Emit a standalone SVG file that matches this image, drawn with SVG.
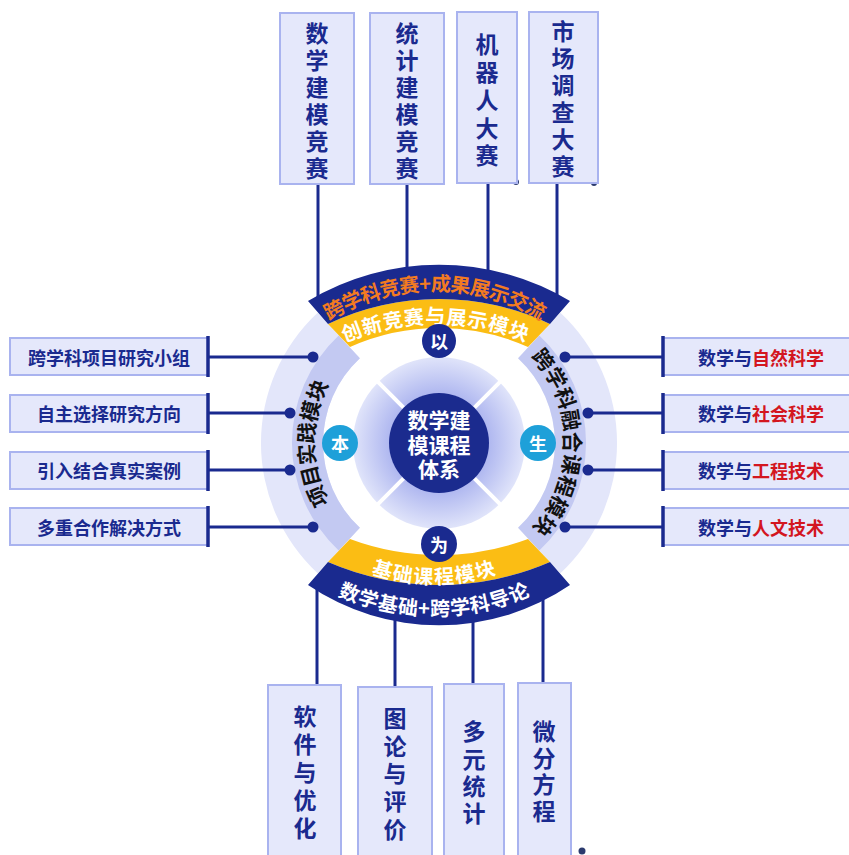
<svg xmlns="http://www.w3.org/2000/svg" width="849" height="855" viewBox="0 0 849 855">
<defs>
<style>
.box{fill:#e5e8fb;stroke:#a9b3ef;stroke-width:2}
.vt{font-family:"Noto Sans CJK SC","Noto Sans",sans-serif;font-weight:700;font-size:23px;fill:#1a2a8f;text-anchor:middle;dominant-baseline:central}
.ht{font-family:"Noto Sans CJK SC","Noto Sans",sans-serif;font-weight:700;font-size:18px;fill:#1a2a8f;text-anchor:middle;dominant-baseline:central}
.red{fill:#d3161f}
.bar{stroke:#1a2a8f;stroke-width:3.5;fill:none}
.ln{stroke:#1a2a8f;stroke-width:3;fill:none}
.dot{fill:#1a2a8f}
.arc{font-family:"Noto Sans CJK SC","Noto Sans",sans-serif;font-weight:700;font-size:20px;text-anchor:middle;dominant-baseline:central}
.side{font-size:21px}
.navy{fill:#1a2a8f}
.yel{fill:#fbbd14}
.badge{font-family:"Noto Sans CJK SC","Noto Sans",sans-serif;font-weight:700;font-size:18px;fill:#fff;text-anchor:middle;dominant-baseline:central}
</style>
<radialGradient id="ringGrad" gradientUnits="userSpaceOnUse" cx="439" cy="443" r="86">
<stop offset="0.58" stop-color="#b0b8f0"/>
<stop offset="1" stop-color="#e0e4fa"/>
</radialGradient>
<path id="pTopDark" d="M271.8,358.1 A213,213 0 0 1 598.2,358.1"/>
<path id="pTopYel" d="M280.4,371.6 A242,242 0 0 1 591.6,371.6"/>
<path id="pBotYel" d="M289.2,507.5 A189,189 0 0 0 578.8,507.5"/>
<path id="pBotDark" d="M272.1,539.9 A229,229 0 0 0 595.9,539.9"/>
<path id="pLeft" d="M344.2,537.8 A135,135 0 0 1 344.2,348.2"/>
<path id="pRight" d="M534.5,347.5 A135,135 0 0 1 534.5,538.5"/>
</defs>
<rect width="849" height="855" fill="#ffffff"/>

<g id="wheel">
<path fill="#e3e6fa" d="M317.6,312.8 A178,178 0 0 0 317.6,573.2 L359.9,527.8 A116,116 0 0 1 359.9,358.2 Z"/>
<path fill="#c3c9f2" d="M338.7,335.5 A147,147 0 0 0 338.7,550.5 L359.9,527.8 A116,116 0 0 1 359.9,358.2 Z"/>
<path fill="#e3e6fa" d="M560.4,312.8 A178,178 0 0 1 560.4,573.2 L518.1,527.8 A116,116 0 0 0 518.1,358.2 Z"/>
<path fill="#c3c9f2" d="M539.3,335.5 A147,147 0 0 1 539.3,550.5 L518.1,527.8 A116,116 0 0 0 518.1,358.2 Z"/>
<path class="yel" d="M328,324 A259,259 0 0 1 550,324 L528,347 A218,218 0 0 0 350,347 Z"/>
<path class="navy" d="M308,301 A255,255 0 0 1 570,301 L550,324 A259,259 0 0 0 328,324 Z"/>
<path class="yel" d="M328,562 A279.3,279.3 0 0 0 550,562 L528,539 A255.5,255.5 0 0 1 350,539 Z"/>
<path class="navy" d="M308,585 A232.8,232.8 0 0 0 570,585 L550,562 A279.3,279.3 0 0 1 328,562 Z"/>
<circle cx="439" cy="443" r="86" fill="url(#ringGrad)"/>
<g stroke="#ffffff" stroke-width="4">
<line x1="474.4" y1="407.6" x2="500.8" y2="381.2"/>
<line x1="403.6" y1="407.6" x2="377.2" y2="381.2"/>
<line x1="474.4" y1="478.4" x2="500.8" y2="504.8"/>
<line x1="403.6" y1="478.4" x2="377.2" y2="504.8"/>
</g>
<circle cx="439" cy="443" r="50" fill="#1b2b8e"/>
<text class="badge" style="font-size:21px"><tspan x="439" y="419">数学建</tspan><tspan x="439" y="443.5">模课程</tspan><tspan x="439" y="468">体系</tspan></text>
<text class="arc" fill="#f37b21"><textPath href="#pTopDark" startOffset="50%">跨学科竞赛+成果展示交流</textPath></text>
<text class="arc" fill="#ffffff"><textPath href="#pTopYel" startOffset="50%" letter-spacing="1.5">创新竞赛与展示模块</textPath></text>
<text class="arc" fill="#ffffff"><textPath href="#pBotYel" startOffset="50%" letter-spacing="0.5">基础课程模块</textPath></text>
<text class="arc" fill="#ffffff"><textPath href="#pBotDark" startOffset="50%">数学基础+跨学科导论</textPath></text>
<text class="arc side" fill="#111111"><textPath href="#pLeft" startOffset="50%" letter-spacing="1">项目实践模块</textPath></text>
<text class="arc side" fill="#111111"><textPath href="#pRight" startOffset="50%" letter-spacing="1.5">跨学科融合课程模块</textPath></text>
</g>

<g id="badge-yi"><circle cx="439" cy="341" r="17" fill="#1a2a8f"/><text class="badge" x="439" y="341">以</text></g>
<g id="badge-wei"><circle cx="439" cy="544" r="18" fill="#1a2a8f"/><text class="badge" x="439" y="544">为</text></g>
<g id="badge-ben"><circle cx="340" cy="443" r="18" fill="#1ea0d9"/><text class="badge" x="340" y="443">本</text></g>
<g id="badge-sheng"><circle cx="538" cy="443" r="18" fill="#1ea0d9"/><text class="badge" x="538" y="443">生</text></g>

<g id="connectors">
<line class="ln" x1="318" y1="184" x2="318" y2="299"/>
<line class="ln" x1="407" y1="184" x2="407" y2="271"/>
<line class="ln" x1="488" y1="183" x2="488" y2="273"/>
<line class="ln" x1="557" y1="183" x2="557" y2="298"/>
<line class="ln" x1="317" y1="587" x2="317" y2="686"/>
<line class="ln" x1="395" y1="617" x2="395" y2="688"/>
<line class="ln" x1="473" y1="619" x2="473" y2="685"/>
<line class="ln" x1="543" y1="597" x2="543" y2="684"/>
<line class="ln" x1="208" y1="357" x2="313" y2="357"/>
<line class="ln" x1="208" y1="413" x2="290" y2="413"/>
<line class="ln" x1="208" y1="470" x2="290" y2="470"/>
<line class="ln" x1="208" y1="527" x2="313" y2="527"/>
<line class="ln" x1="663" y1="357" x2="565" y2="357"/>
<line class="ln" x1="663" y1="413" x2="588" y2="413"/>
<line class="ln" x1="663" y1="470" x2="588" y2="470"/>
<line class="ln" x1="663" y1="527" x2="565" y2="527"/>
<circle class="dot" cx="313" cy="357" r="5.5"/>
<circle class="dot" cx="290" cy="413" r="5.5"/>
<circle class="dot" cx="290" cy="470" r="5.5"/>
<circle class="dot" cx="313" cy="527" r="5.5"/>
<circle class="dot" cx="565" cy="357" r="5.5"/>
<circle class="dot" cx="588" cy="413" r="5.5"/>
<circle class="dot" cx="588" cy="470" r="5.5"/>
<circle class="dot" cx="565" cy="527" r="5.5"/>
<circle cx="516" cy="182" r="3" fill="#2b3a6e"/>
<circle cx="594" cy="183" r="3" fill="#2b3a6e"/>
<circle cx="582" cy="851" r="3.5" fill="#2b3a6e"/>
</g>

<g id="top-1"><rect class="box" x="280" y="13" width="74" height="171"/>
<text class="vt"><tspan x="317" y="32">数</tspan><tspan x="317" y="59">学</tspan><tspan x="317" y="86">建</tspan><tspan x="317" y="113">模</tspan><tspan x="317" y="140">竞</tspan><tspan x="317" y="167">赛</tspan></text></g>
<g id="top-2"><rect class="box" x="370" y="13" width="74" height="171"/>
<text class="vt"><tspan x="407" y="32">统</tspan><tspan x="407" y="59">计</tspan><tspan x="407" y="86">建</tspan><tspan x="407" y="113">模</tspan><tspan x="407" y="140">竞</tspan><tspan x="407" y="167">赛</tspan></text></g>
<g id="top-3"><rect class="box" x="457" y="12" width="60" height="171"/>
<text class="vt"><tspan x="487" y="43">机</tspan><tspan x="487" y="71">器</tspan><tspan x="487" y="99">人</tspan><tspan x="487" y="127">大</tspan><tspan x="487" y="154">赛</tspan></text></g>
<g id="top-4"><rect class="box" x="529" y="12" width="69" height="171"/>
<text class="vt"><tspan x="563" y="30">市</tspan><tspan x="563" y="57">场</tspan><tspan x="563" y="84">调</tspan><tspan x="563" y="111">查</tspan><tspan x="563" y="138">大</tspan><tspan x="563" y="165">赛</tspan></text></g>

<g id="bottom-1"><rect class="box" x="268" y="685" width="73" height="180"/>
<text class="vt"><tspan x="305" y="715">软</tspan><tspan x="305" y="743">件</tspan><tspan x="305" y="771">与</tspan><tspan x="305" y="799">优</tspan><tspan x="305" y="827">化</tspan></text></g>
<g id="bottom-2"><rect class="box" x="358" y="687" width="74" height="180"/>
<text class="vt"><tspan x="395" y="717">图</tspan><tspan x="395" y="745">论</tspan><tspan x="395" y="772">与</tspan><tspan x="395" y="800">评</tspan><tspan x="395" y="828">价</tspan></text></g>
<g id="bottom-3"><rect class="box" x="444" y="684" width="60" height="180"/>
<text class="vt"><tspan x="474" y="730">多</tspan><tspan x="474" y="758">元</tspan><tspan x="474" y="785">统</tspan><tspan x="474" y="812">计</tspan></text></g>
<g id="bottom-4"><rect class="box" x="518" y="683" width="53" height="180"/>
<text class="vt"><tspan x="544" y="730">微</tspan><tspan x="544" y="757">分</tspan><tspan x="544" y="783">方</tspan><tspan x="544" y="810">程</tspan></text></g>

<g id="left-1"><rect class="box" x="10" y="338" width="198" height="37"/><line class="bar" x1="208" y1="336" x2="208" y2="377"/><text class="ht" x="109" y="357">跨学科项目研究小组</text></g>
<g id="left-2"><rect class="box" x="10" y="395" width="198" height="37"/><line class="bar" x1="208" y1="393" x2="208" y2="434"/><text class="ht" x="109" y="413">自主选择研究方向</text></g>
<g id="left-3"><rect class="box" x="10" y="452" width="198" height="37"/><line class="bar" x1="208" y1="450" x2="208" y2="491"/><text class="ht" x="109" y="470">引入结合真实案例</text></g>
<g id="left-4"><rect class="box" x="10" y="508" width="198" height="37"/><line class="bar" x1="208" y1="506" x2="208" y2="547"/><text class="ht" x="109" y="527">多重合作解决方式</text></g>

<g id="right-1"><rect class="box" x="663" y="338" width="195" height="37"/><line class="bar" x1="663" y1="336" x2="663" y2="377"/><text class="ht" x="761" y="357">数学与<tspan class="red">自然科学</tspan></text></g>
<g id="right-2"><rect class="box" x="663" y="395" width="195" height="37"/><line class="bar" x1="663" y1="393" x2="663" y2="434"/><text class="ht" x="761" y="413">数学与<tspan class="red">社会科学</tspan></text></g>
<g id="right-3"><rect class="box" x="663" y="452" width="195" height="37"/><line class="bar" x1="663" y1="450" x2="663" y2="491"/><text class="ht" x="761" y="470">数学与<tspan class="red">工程技术</tspan></text></g>
<g id="right-4"><rect class="box" x="663" y="508" width="195" height="37"/><line class="bar" x1="663" y1="506" x2="663" y2="547"/><text class="ht" x="761" y="527">数学与<tspan class="red">人文技术</tspan></text></g>
</svg>
